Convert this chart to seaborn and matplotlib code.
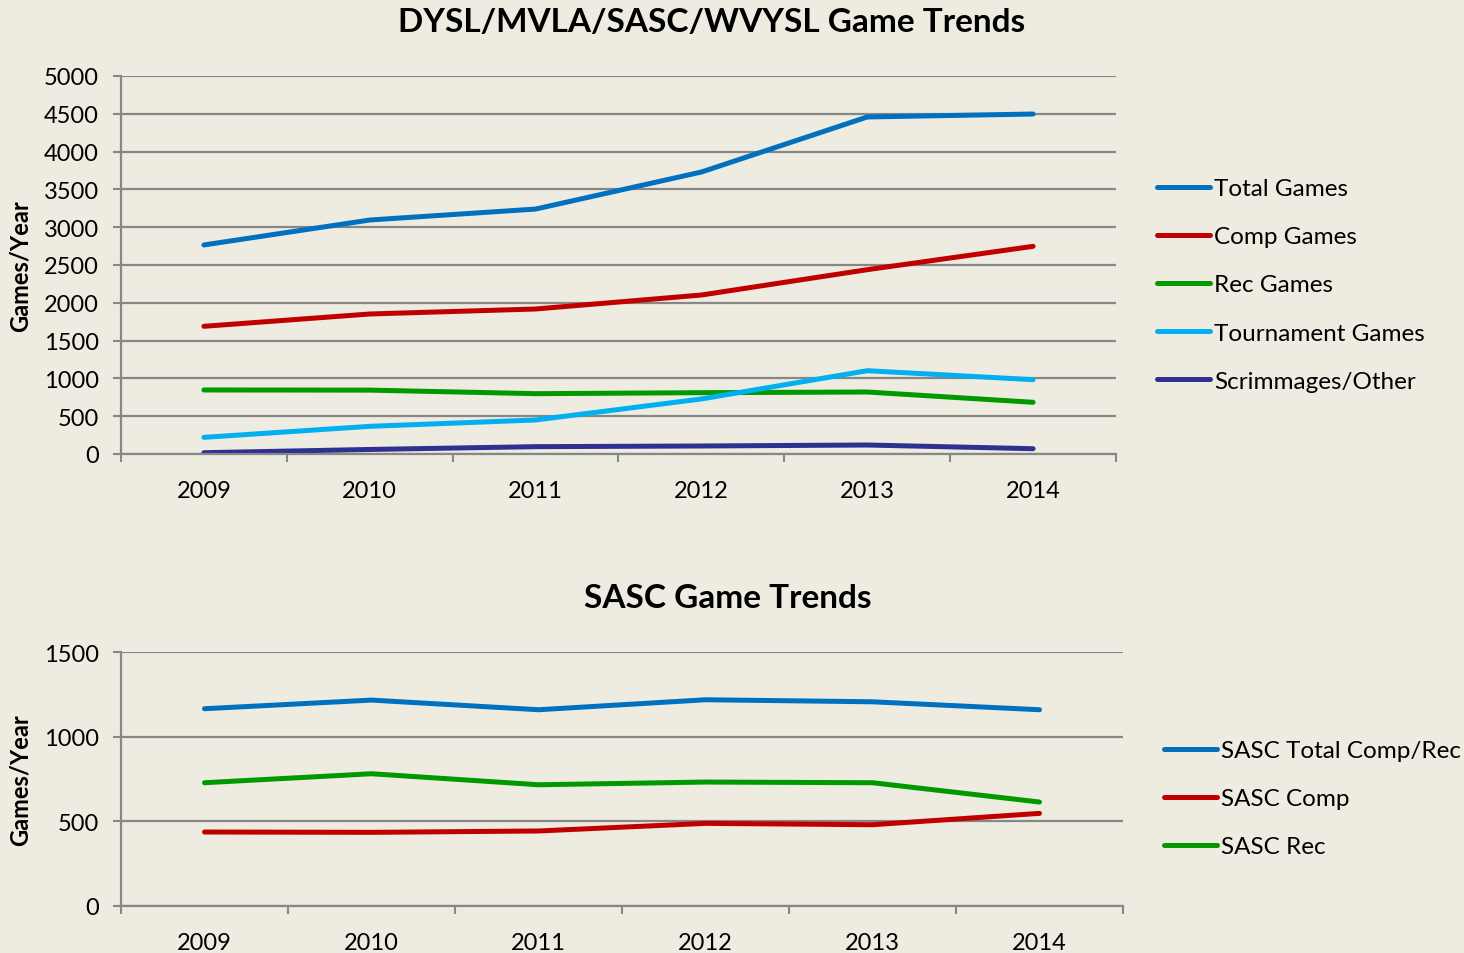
import pandas as pd
import seaborn as sns
import matplotlib.pyplot as plt
from matplotlib.ticker import FixedLocator

years = ["2009", "2010", "2011", "2012", "2013", "2014"]

# DYSL/MVLA/SASC/WVYSL totals
total_games = [2765, 3095, 3240, 3730, 4458, 4497]
comp_games = [1689, 1852, 1918, 2103, 2438, 2747]
rec_games = [847, 845, 798, 811, 820, 684]
tournament_games = [220, 366, 450, 728, 1102, 983]
scrimmages_other = [17, 60, 97, 106, 119, 70]

# SASC only
sasc_total = [1165, 1216, 1159, 1218, 1206, 1159]
sasc_comp = [437, 435, 443, 488, 480, 547]
sasc_rec = [728, 781, 716, 732, 728, 614]

BG = "#EEEBE0"
GRID = "#878787"

sns.set_style("white")
plt.rcParams["font.family"] = ["Lato", "DejaVu Sans"]
plt.rcParams["text.color"] = "black"
plt.rcParams["axes.labelcolor"] = "black"


def long_frame(series):
    rows = []
    for name, vals in series.items():
        for i, v in enumerate(vals):
            rows.append({"pos": i, "year": years[i], "series": name, "games": v})
    return pd.DataFrame(rows)


top_df = long_frame({
    "Total Games": total_games,
    "Comp Games": comp_games,
    "Rec Games": rec_games,
    "Tournament Games": tournament_games,
    "Scrimmages/Other": scrimmages_other,
})
bot_df = long_frame({
    "SASC Total Comp/Rec": sasc_total,
    "SASC Comp": sasc_comp,
    "SASC Rec": sasc_rec,
})

top_pal = {
    "Total Games": "#0070C0",
    "Comp Games": "#C00000",
    "Rec Games": "#009900",
    "Tournament Games": "#00B0F0",
    "Scrimmages/Other": "#2E3092",
}
bot_pal = {
    "SASC Total Comp/Rec": "#0070C0",
    "SASC Comp": "#C00000",
    "SASC Rec": "#009900",
}

W, H = 1464, 954
fig = plt.figure(figsize=(W / 100, H / 100), dpi=100, facecolor=BG)


def px_axes(left, top, right, bottom):
    return fig.add_axes([left / W, 1 - bottom / H, (right - left) / W, (bottom - top) / H])


def style_axes(ax, ymax, ystep, width_px):
    ax.set_facecolor(BG)
    ax.set_xlim(-0.5, len(years) - 0.5)
    ax.set_ylim(0, ymax)
    ax.set_yticks(range(0, ymax + 1, ystep))
    ax.set_xticks(range(len(years)))
    ax.set_xticklabels(years)
    ax.xaxis.set_minor_locator(FixedLocator([i - 0.5 for i in range(len(years) + 1)]))
    ax.tick_params(axis="x", which="both", bottom=True)
    ax.tick_params(axis="x", which="major", length=0, pad=19, labelsize=17, labelcolor="black")
    ax.tick_params(axis="x", which="minor", length=6, width=1.5, color=GRID)
    ax.tick_params(axis="y", left=True, length=6, width=1.5, color=GRID, pad=10,
                   labelsize=17, labelcolor="black")
    ax.yaxis.grid(True, color=GRID, linewidth=1.6)
    ax.xaxis.grid(False)
    ax.set_axisbelow(True)
    for s in ["top", "right"]:
        ax.spines[s].set_visible(False)
    for s in ["left", "bottom"]:
        ax.spines[s].set_color(GRID)
        ax.spines[s].set_linewidth(1.6)
    ax.set_xlabel("")
    ax.set_ylabel("Games/Year", fontsize=17, fontweight="bold")
    ax.yaxis.set_label_coords((32 - 121) / width_px, 0.5)


def style_legend(ax, x_px, y_px):
    ax.legend(loc="upper left", bbox_to_anchor=(x_px / W, 1 - y_px / H),
              bbox_transform=fig.transFigure, frameon=False, fontsize=17.5,
              handlelength=2.2, handletextpad=0.15, labelspacing=1.12,
              borderpad=0, borderaxespad=0)
    for line in ax.get_legend().get_lines():
        line.set_linewidth(3.6)
        line.set_solid_capstyle("round")


ax1 = px_axes(121, 77, 1116, 455)
sns.lineplot(data=top_df, x="pos", y="games", hue="series", palette=top_pal,
             linewidth=3.6, solid_capstyle="round", ax=ax1)
style_axes(ax1, 5000, 500, 995)
style_legend(ax1, 1157, 179)
fig.text(712 / W, 1 - 22 / H, "DYSL/MVLA/SASC/WVYSL Game Trends",
         fontsize=24, fontweight="bold", ha="center", va="center")

ax2 = px_axes(121, 653, 1123, 907)
sns.lineplot(data=bot_df, x="pos", y="games", hue="series", palette=bot_pal,
             linewidth=3.6, solid_capstyle="round", ax=ax2)
style_axes(ax2, 1500, 500, 1002)
style_legend(ax2, 1164, 741)
fig.text(728 / W, 1 - 598 / H, "SASC Game Trends",
         fontsize=24, fontweight="bold", ha="center", va="center")

fig.savefig("out.png", dpi=100, facecolor=BG)
